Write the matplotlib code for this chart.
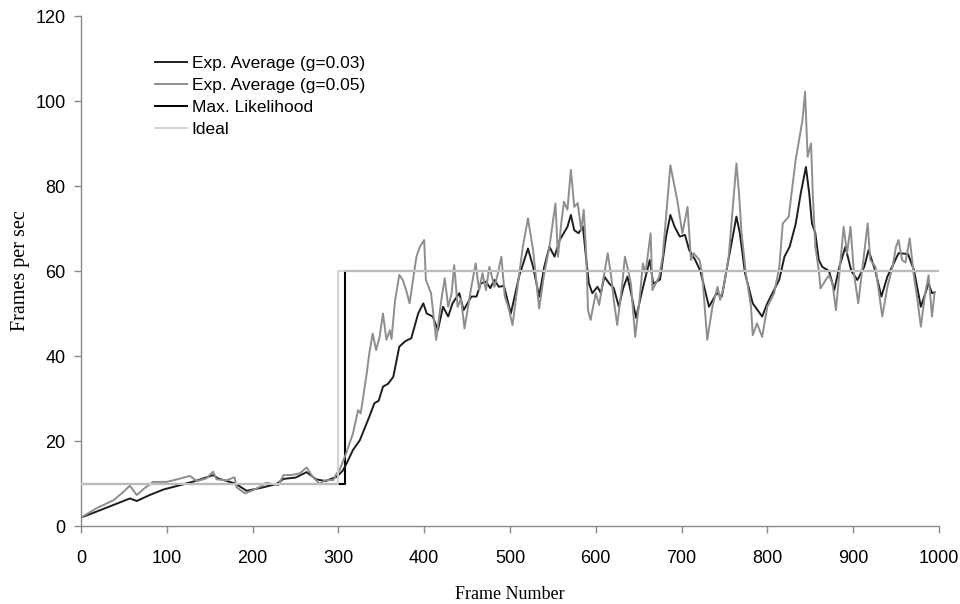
import matplotlib.pyplot as plt

plt.rcParams["font.family"] = ["Liberation Sans", "DejaVu Sans"]

# Exp. Average (g=0.05) (frame, fps)
g05_frames = [0, 18, 38, 48, 57, 65, 74, 84, 100, 112, 127, 135, 146, 154, 158,
              170, 179, 181, 191, 200, 210, 216, 230, 236, 245, 255, 263, 270, 278,
              285, 294, 298, 301, 309, 317, 323, 326, 333, 336, 340, 344, 348, 352,
              356, 360, 362, 366, 371, 375, 379, 383, 391, 395, 400, 402, 408, 414,
              420, 424, 428, 432, 435, 439, 443, 447, 455, 460, 464, 468, 472, 476,
              482, 486, 490, 494, 498, 503, 511, 515, 521, 527, 534, 540, 546, 553,
              556, 560, 563, 567, 571, 575, 579, 583, 586, 589, 591, 594, 600, 604,
              608, 614, 618, 621, 625, 631, 634, 638, 641, 646, 651, 655, 658, 664,
              666, 674, 678, 682, 687, 692, 695, 701, 707, 711, 714, 721, 724, 730,
              736, 742, 745, 749, 755, 764, 767, 770, 775, 781, 783, 788, 794, 800,
              808, 814, 818, 825, 833, 837, 841, 844, 847, 851, 853, 856, 860, 862,
              868, 872, 876, 880, 884, 889, 893, 897, 901, 906, 911, 917, 920, 926,
              934, 940, 946, 950, 953, 957, 961, 966, 971, 975, 979, 984, 988, 992,
              995]
g05_values = [2.0, 4.2, 6.1, 7.8, 9.5, 7.3, 8.9, 10.4, 10.4, 11.0, 11.8, 10.6, 11.2,
              12.8, 11.0, 10.8, 11.5, 9.2, 7.7, 8.4, 9.4, 10.2, 9.6, 12.0, 12.0, 12.4,
              13.8, 11.6, 10.0, 10.8, 10.8, 12.4, 13.0, 17.1, 21.8, 27.3, 26.5, 35.9,
              40.6, 45.3, 41.4, 44.5, 50.0, 43.8, 46.1, 44.0, 53.0, 59.1, 57.9, 55.5,
              52.4, 63.4, 65.7, 67.3, 57.9, 54.8, 43.8, 53.2, 58.3, 51.6, 54.7, 61.4,
              51.6, 53.5, 46.5, 56.3, 61.8, 55.5, 59.5, 55.5, 61.0, 56.3, 59.5, 63.4,
              54.0, 51.6, 47.3, 59.5, 65.7, 72.4, 64.9, 51.2, 59.5, 65.7, 75.9, 63.4,
              71.6, 76.3, 74.4, 83.8, 75.1, 76.0, 69.6, 74.4, 63.4, 50.8, 48.5, 54.8,
              52.0, 57.1, 64.2, 58.7, 53.2, 47.3, 57.1, 63.4, 60.0, 57.0, 44.5, 53.2,
              61.8, 59.5, 68.9, 55.5, 58.7, 63.4, 72.8, 84.9, 79.8, 76.7, 68.9, 75.1,
              62.6, 64.2, 62.6, 59.5, 43.8, 51.6, 56.3, 53.2, 56.0, 63.4, 85.3, 78.3,
              68.9, 59.5, 51.6, 44.9, 47.7, 44.5, 51.6, 54.8, 61.0, 71.2, 72.8, 86.1,
              90.8, 95.5, 102.2, 86.9, 90.0, 78.3, 65.7, 60.2, 55.9, 57.9, 59.0, 57.0,
              50.8, 59.5, 70.4, 64.2, 70.4, 59.5, 52.4, 61.0, 71.2, 62.6, 61.0, 49.3,
              56.3, 61.0, 65.7, 67.3, 62.6, 62.0, 67.7, 58.7, 53.2, 46.9, 54.8, 59.0,
              49.3, 55.0]

# Exp. Average (g=0.03)
g03_frames = [0, 18, 38, 57, 65, 80, 96, 115, 135, 154, 160, 170, 180, 193, 210,
              228, 236, 250, 263, 274, 285, 298, 305, 309, 317, 325, 336, 342, 347,
              352, 358, 364, 371, 378, 385, 393, 399, 403, 410, 416, 422, 428, 433,
              441, 446, 455, 461, 466, 472, 477, 482, 487, 493, 501, 511, 521, 527,
              534, 540, 546, 552, 558, 567, 571, 575, 580, 585, 589, 592, 596, 602,
              606, 610, 616, 621, 627, 632, 637, 642, 647, 655, 663, 667, 675, 682,
              687, 692, 698, 704, 709, 716, 722, 732, 741, 747, 755, 764, 768, 774,
              783, 788, 794, 800, 814, 820, 826, 833, 839, 845, 849, 852, 856, 860,
              864, 872, 878, 884, 891, 898, 905, 913, 918, 926, 933, 940, 953, 964,
              971, 979, 988, 992, 995]
g03_values = [2.0, 3.4, 5.0, 6.5, 5.9, 7.3, 8.6, 9.6, 10.7, 12.0, 11.2, 10.6, 10.0,
              8.3, 9.0, 9.9, 11.1, 11.4, 12.7, 11.0, 10.6, 11.6, 13.0, 14.5, 17.9,
              20.2, 25.7, 28.9, 29.5, 32.8, 33.5, 35.1, 42.2, 43.5, 44.2, 50.0, 52.4,
              50.0, 49.3, 46.1, 51.6, 49.3, 52.4, 54.8, 50.8, 54.0, 54.0, 57.1, 57.5,
              56.0, 57.9, 56.3, 56.5, 50.0, 59.0, 65.3, 61.0, 54.0, 61.0, 65.7, 63.4,
              67.3, 70.4, 73.2, 69.6, 68.9, 70.5, 62.6, 57.1, 54.8, 56.3, 54.8, 58.7,
              57.0, 56.0, 51.6, 56.0, 58.7, 54.0, 49.0, 56.1, 62.6, 57.0, 58.0, 68.1,
              73.2, 70.4, 68.1, 68.5, 64.9, 62.6, 60.0, 51.6, 54.8, 54.0, 63.0, 72.8,
              68.9, 59.5, 52.4, 51.0, 49.3, 52.4, 58.0, 63.4, 65.7, 71.0, 78.3, 84.5,
              78.0, 71.2, 68.9, 62.6, 61.0, 60.0, 55.5, 61.0, 65.7, 60.0, 57.9, 61.0,
              64.9, 60.0, 54.0, 58.7, 64.2, 64.0, 60.2, 51.6, 57.1, 54.8, 55.0]

# Max. Likelihood and Ideal
ml_frames = [0, 308, 308, 1000]
ml_values = [10, 10, 60, 60]
ideal_frames = [0, 300, 300, 1000]
ideal_values = [10, 10, 60, 60]

fig = plt.figure(figsize=(9.6, 6.04), dpi=100)
ax = fig.add_axes([0.0844, 0.129, 0.8936, 0.8445])

ax.plot(ml_frames, ml_values, color="black", linewidth=1.5, zorder=1,
        label="_nolegend_")
ax.plot(g03_frames, g03_values, color="#1e1e1e", linewidth=1.4, zorder=2,
        label="Exp. Average (g=0.03)")
ax.plot(g05_frames, g05_values, color="#8e8e8e", linewidth=1.4, zorder=3,
        label="Exp. Average (g=0.05)")
ax.plot([], [], color="black", linewidth=1.4, label="Max. Likelihood")
ax.plot(ideal_frames, ideal_values, color="#d0d0d0", linewidth=1.3, zorder=4,
        label="Ideal")

ax.set_xlim(0, 1000)
ax.set_ylim(0, 120)
ax.set_xticks(range(0, 1001, 100))
ax.set_yticks(range(0, 121, 20))

for side in ["top", "right"]:
    ax.spines[side].set_visible(False)
for side in ["left", "bottom"]:
    ax.spines[side].set_color("#8a8a8a")
    ax.spines[side].set_linewidth(1.0)
ax.tick_params(axis="both", colors="#8a8a8a", labelcolor="black", labelsize=13,
               length=5, width=1.0, direction="out")
ax.tick_params(axis="x", pad=12)
ax.tick_params(axis="y", pad=6)

ax.set_xlabel("Frame Number", family="Liberation Serif", fontsize=13, labelpad=14)
ax.set_ylabel("Frames per sec", family="Liberation Serif", fontsize=14.5, labelpad=4)

ax.legend(loc="upper left", bbox_to_anchor=(0.0785, 0.936), frameon=False,
          fontsize=12.5, handlelength=1.85, handletextpad=0.25, labelspacing=0.4,
          borderaxespad=0)

fig.savefig("out.png", dpi=100)
